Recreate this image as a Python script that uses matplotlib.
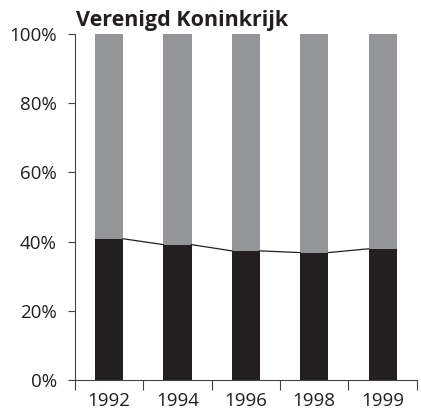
import numpy as np
import matplotlib.pyplot as plt

years = ["1992", "1994", "1996", "1998", "1999"]
bottom_share = [40.8, 39.1, 37.3, 36.8, 37.9]
top_share = [100 - v for v in bottom_share]

dark = "#231f20"
grey = "#939598"

plt.rcParams["font.family"] = ["Open Sans", "DejaVu Sans"]

fig = plt.figure(figsize=(4.21, 4.13), dpi=100)
ax = fig.add_axes([0.178, 0.080, 0.812, 0.838])

x = np.arange(len(years))
w = 0.41
ax.bar(x, bottom_share, width=w, color=dark)
ax.bar(x, top_share, width=w, bottom=bottom_share, color=grey)

# connector line between the tops of the dark segments
for i in range(len(years) - 1):
    ax.plot([x[i] + w / 2, x[i + 1] - w / 2],
            [bottom_share[i], bottom_share[i + 1]],
            color=dark, lw=0.9)

ax.set_xlim(-0.5, len(years) - 0.5)
ax.set_ylim(0, 100)

ax.set_yticks(range(0, 101, 20))
ax.set_yticklabels([f"{v}%" for v in range(0, 101, 20)], fontsize=13.5)
ax.set_xticks(x)
ax.set_xticklabels(years, fontsize=13.5)
ax.tick_params(axis="x", length=0, pad=9)
ax.set_xticks(np.arange(-0.5, len(years)), minor=True)
ax.tick_params(axis="x", which="minor", length=7, width=0.8, color="#444444")
ax.tick_params(axis="y", length=5, width=0.8, pad=8, color="#444444")
for lab in ax.get_xticklabels() + ax.get_yticklabels():
    lab.set_color(dark)

for s in ["top", "right"]:
    ax.spines[s].set_visible(False)
for s in ["left", "bottom"]:
    ax.spines[s].set_linewidth(0.8)
    ax.spines[s].set_color("#444444")

fig.text(0.180, 0.950, "Verenigd Koninkrijk", fontsize=15.5,
         fontweight="bold", ha="left", va="center", color=dark)

fig.savefig("out.png", dpi=100)
